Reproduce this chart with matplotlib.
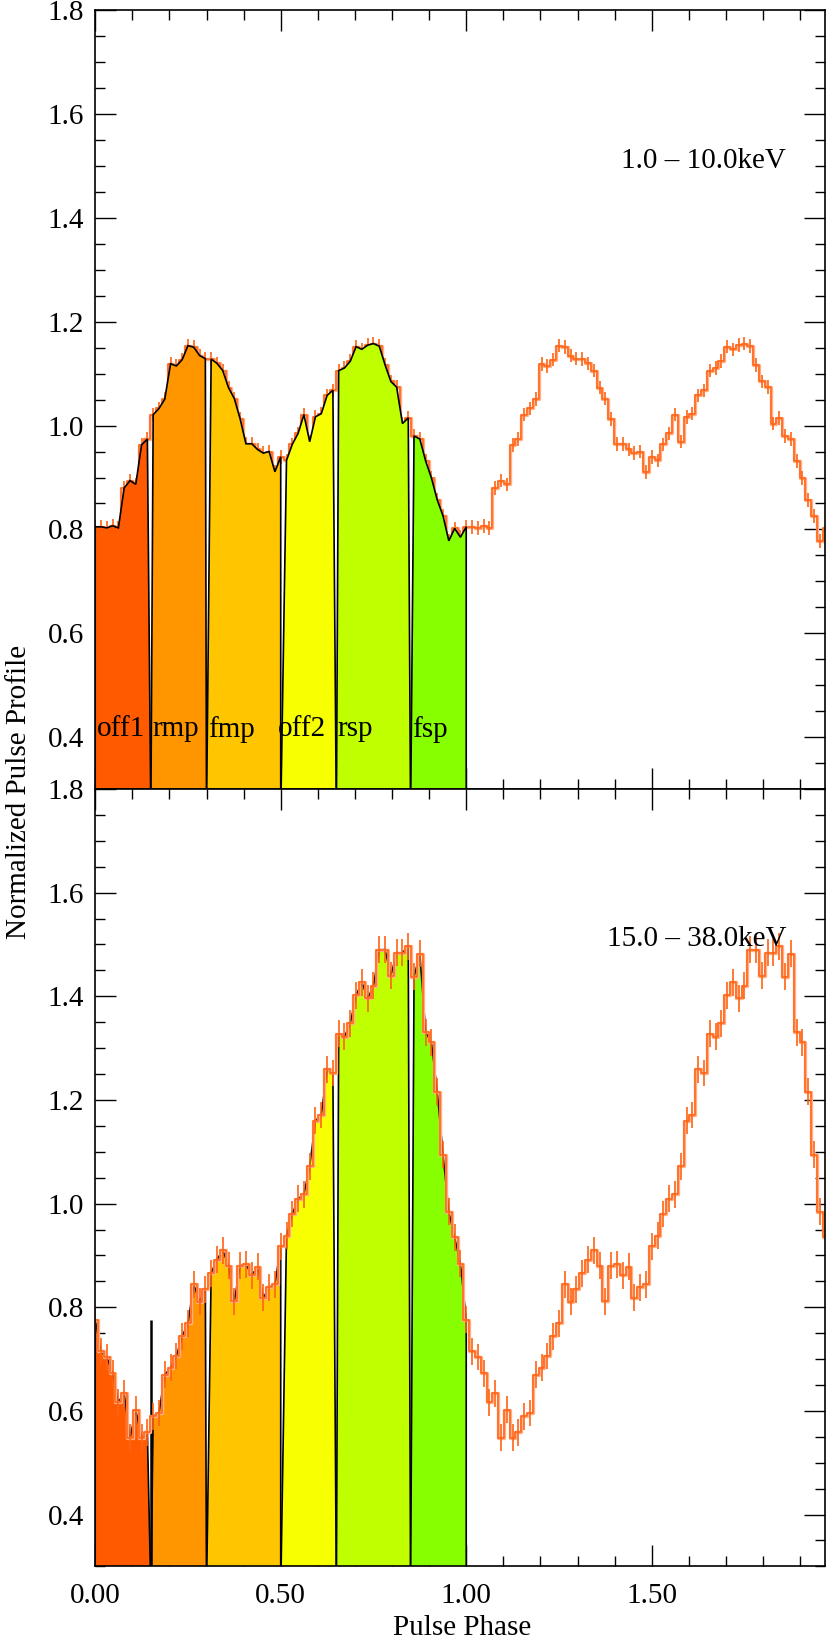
import numpy as np
import matplotlib
matplotlib.use("Agg")
import matplotlib.pyplot as plt
from matplotlib.ticker import MultipleLocator, FormatStrFormatter

plt.rcParams['font.family'] = ['Liberation Serif', 'DejaVu Serif']
plt.rcParams['font.size'] = 21

# one pulse cycle, 64 phase bins (centres at k/64); the plot shows two cycles
n_bins = 64
soft_profile = [
    0.805, 0.805, 0.803, 0.807, 0.803,
    0.880, 0.894, 0.887, 0.963, 0.974,
    1.021, 1.033, 1.051, 1.119, 1.115,
    1.127, 1.154, 1.151, 1.135, 1.129,
    1.128, 1.120, 1.106, 1.073, 1.052,
    1.013, 0.965, 0.965, 0.954, 0.947,
    0.950, 0.911, 0.940, 0.933, 0.964,
    0.985, 1.021, 0.969, 1.017, 1.023,
    1.058, 1.068, 1.106, 1.111, 1.124,
    1.152, 1.147, 1.155, 1.158, 1.153,
    1.117, 1.085, 1.074, 1.004, 1.015,
    0.980, 0.974, 0.932, 0.899, 0.857,
    0.826, 0.778, 0.802, 0.785,
]
hard_profile = [
    0.776, 0.715, 0.704, 0.673, 0.617,
    0.634, 0.548, 0.602, 0.548, 0.559,
    0.590, 0.596, 0.670, 0.683, 0.706,
    0.744, 0.769, 0.844, 0.811, 0.835,
    0.866, 0.892, 0.910, 0.880, 0.812,
    0.880, 0.883, 0.862, 0.878, 0.818,
    0.839, 0.844, 0.918, 0.938, 0.980,
    1.009, 1.018, 1.072, 1.160, 1.171,
    1.259, 1.252, 1.328, 1.322, 1.348,
    1.402, 1.427, 1.396, 1.420, 1.490,
    1.490, 1.440, 1.484, 1.484, 1.497,
    1.438, 1.482, 1.331, 1.311, 1.216,
    1.094, 0.984, 0.935, 0.884,
]
soft_err = 0.013
hard_err = 0.026

energy_labels = ['1.0 – 10.0keV', '15.0 – 38.0keV']
region_names = ['off1', 'rmp', 'fmp', 'off2', 'rsp', 'fsp']
region_edges = [0.0, 0.15, 0.30, 0.50, 0.65, 0.85, 1.00]
region_colors = ['#ff5a00', '#ff9600', '#ffc600', '#f8ff00', '#c0ff00', '#88ff00']

line_col = '#ff6414'
ymin, ymax = 0.3, 1.8
W, H = 826, 1639

fig = plt.figure(figsize=(W / 100, H / 100), dpi=100)
left = 95.2 / W
width = (825 - 95.2) / W
ax_top = fig.add_axes([left, 1 - 789 / H, width, 778.7 / H])
ax_bot = fig.add_axes([left, 1 - 1566.4 / H, width, 777.4 / H])


def draw_panel(ax, profile, err, label, show_names, fill_on_top):
    prof = np.array(profile)
    phase = np.arange(2 * n_bins) / n_bins
    vals = np.tile(prof, 2)
    fz = 5 if fill_on_top else 2

    # coloured phase regions on the first cycle
    base = ymin - 0.05
    for i, (x0, x1) in enumerate(zip(region_edges[:-1], region_edges[1:])):
        if i == 0:
            m = (phase >= x0) & (phase <= x1)
        else:
            m = (phase > x0) & (phase <= x1)
        xs = np.concatenate([[x0], phase[m], [x1]])
        ys = np.concatenate([[base], vals[m], [base]])
        ax.fill(xs, ys, facecolor=region_colors[i], edgecolor='black', lw=1.2, zorder=fz)
        # boundary marker up to the phase-0 level (only shows where the data dips below it)
        if i > 0 and prof[0] > vals[m][0]:
            ax.vlines(x0, base, prof[0], color='black', lw=1.8, zorder=fz)
        if show_names:
            ax.text(x0 + 0.004 if i != 3 else x0 - 0.008, 0.415, region_names[i],
                    ha='left', va='center', zorder=6)

    # profile: step line + error bars
    ax.step(phase, vals, where='mid', color='#ffb088', lw=2.4, zorder=3)
    ax.step(phase, vals, where='mid', color=line_col, lw=1.1, zorder=4)
    ax.errorbar(phase, vals, yerr=err, fmt='none', ecolor=line_col,
                elinewidth=1.2, capsize=0, zorder=4)

    ax.text(1.862, 1.51, label, ha='right', va='center', zorder=6)

    ax.set_xlim(0, 1.967)
    ax.set_ylim(ymin, ymax)
    ax.set_xticks([0.0, 0.5, 1.0, 1.5])
    ax.xaxis.set_minor_locator(MultipleLocator(0.1))
    ax.set_yticks(np.arange(0.4, 1.81, 0.2))
    ax.yaxis.set_minor_locator(MultipleLocator(0.05))
    ax.xaxis.set_major_formatter(FormatStrFormatter('%.2f'))
    ax.yaxis.set_major_formatter(FormatStrFormatter('%.1f'))
    ax.tick_params(which='both', direction='in', top=True, right=True, width=1)
    ax.tick_params(which='major', length=15)
    ax.tick_params(which='minor', length=7)
    ax.tick_params(axis='y', pad=8)
    ax.tick_params(axis='x', pad=12)
    for s in ax.spines.values():
        s.set_linewidth(1.2)
        s.set_zorder(7)


draw_panel(ax_top, soft_profile, soft_err, energy_labels[0], True, True)
draw_panel(ax_bot, hard_profile, hard_err, energy_labels[1], False, False)
ax_top.tick_params(labelbottom=False)

fig.text(19 / W, 1 - 792 / H, 'Normalized Pulse Profile', rotation=90,
         ha='center', va='center')
fig.text(462 / W, 1 - 1628 / H, 'Pulse Phase', ha='center', va='center')

fig.savefig('out.png', dpi=100)
